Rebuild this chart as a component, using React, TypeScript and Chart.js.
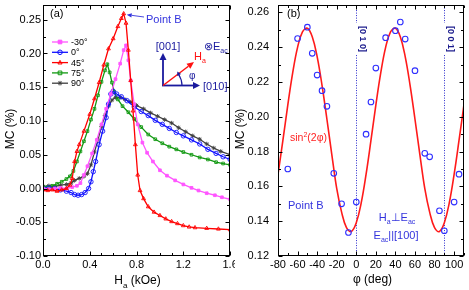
import React, { useEffect, useRef } from 'react';
import { Chart, registerables } from 'chart.js';
Chart.register(...registerables);

const FONT = '"Liberation Sans", Arial, Helvetica, sans-serif';

// ---------------- Panel (a): MC vs Ha ----------------
const legendLabels = ['-30°', '0°', '45°', '75°', '90°'];
const seriesColors = ['#ff55ff', '#1010ff', '#ff0000', '#119911', '#404040'];

const hM30 = [0.00, 0.05, 0.10, 0.15, 0.20, 0.25, 0.29, 0.32, 0.35, 0.38, 0.42, 0.46, 0.50, 0.54, 0.58, 0.62, 0.66, 0.69, 0.71, 0.73, 0.75, 0.78, 0.81, 0.85, 0.89, 0.94, 1.00, 1.06, 1.13, 1.20, 1.27, 1.33, 1.40, 1.47, 1.53, 1.60];
const mcM30 = [0.000, -0.001, 0.000, 0.001, 0.000, 0.002, 0.004, 0.008, 0.020, 0.033, 0.052, 0.072, 0.095, 0.118, 0.140, 0.162, 0.185, 0.205, 0.212, 0.190, 0.160, 0.125, 0.095, 0.068, 0.053, 0.040, 0.027, 0.019, 0.012, 0.006, 0.001, -0.003, -0.007, -0.010, -0.013, -0.016];

const h0 = [0.00, 0.05, 0.10, 0.15, 0.20, 0.24, 0.27, 0.30, 0.33, 0.36, 0.39, 0.41, 0.43, 0.45, 0.48, 0.51, 0.54, 0.56, 0.58, 0.60, 0.63, 0.67, 0.72, 0.78, 0.84, 0.90, 0.96, 1.02, 1.08, 1.14, 1.20, 1.27, 1.34, 1.41, 1.48, 1.54, 1.60];
const mc0 = [0.000, 0.001, 0.000, -0.002, -0.004, -0.006, -0.009, -0.010, -0.009, -0.006, 0.000, 0.010, 0.025, 0.040, 0.065, 0.085, 0.105, 0.125, 0.140, 0.144, 0.140, 0.136, 0.130, 0.121, 0.114, 0.108, 0.101, 0.095, 0.089, 0.083, 0.078, 0.072, 0.066, 0.058, 0.052, 0.047, 0.043];

const h45 = [0.00, 0.04, 0.08, 0.12, 0.16, 0.20, 0.23, 0.25, 0.27, 0.29, 0.31, 0.35, 0.40, 0.44, 0.48, 0.52, 0.56, 0.60, 0.64, 0.67, 0.69, 0.71, 0.73, 0.75, 0.77, 0.79, 0.81, 0.83, 0.86, 0.90, 0.95, 1.00, 1.05, 1.10, 1.15, 1.20, 1.25, 1.30, 1.40, 1.50, 1.60];
const mc45 = [-0.002, -0.003, -0.002, -0.004, -0.002, 0.000, 0.005, 0.015, 0.040, 0.055, 0.065, 0.085, 0.110, 0.133, 0.157, 0.183, 0.207, 0.222, 0.240, 0.252, 0.259, 0.245, 0.205, 0.160, 0.115, 0.065, 0.020, -0.003, -0.015, -0.027, -0.035, -0.040, -0.045, -0.049, -0.052, -0.055, -0.057, -0.058, -0.059, -0.060, -0.061];

const h75 = [0.00, 0.04, 0.08, 0.12, 0.16, 0.20, 0.23, 0.26, 0.29, 0.32, 0.35, 0.38, 0.41, 0.44, 0.47, 0.50, 0.53, 0.55, 0.57, 0.59, 0.61, 0.64, 0.68, 0.73, 0.78, 0.84, 0.90, 0.96, 1.02, 1.08, 1.14, 1.20, 1.27, 1.34, 1.41, 1.48, 1.54, 1.60];
const mc75 = [0.003, 0.002, 0.004, 0.007, 0.010, 0.014, 0.018, 0.026, 0.040, 0.055, 0.070, 0.085, 0.102, 0.118, 0.138, 0.158, 0.175, 0.184, 0.172, 0.157, 0.143, 0.132, 0.122, 0.113, 0.103, 0.091, 0.080, 0.073, 0.067, 0.062, 0.058, 0.054, 0.050, 0.046, 0.043, 0.039, 0.037, 0.035];

const h90 = [0.00, 0.05, 0.10, 0.15, 0.20, 0.24, 0.27, 0.31, 0.35, 0.38, 0.41, 0.44, 0.47, 0.50, 0.53, 0.56, 0.59, 0.62, 0.66, 0.70, 0.75, 0.80, 0.86, 0.92, 0.98, 1.04, 1.10, 1.16, 1.22, 1.28, 1.34, 1.40, 1.46, 1.52, 1.60];
const mc90 = [0.003, 0.004, 0.003, 0.005, 0.006, 0.008, 0.012, 0.015, 0.018, 0.022, 0.035, 0.054, 0.072, 0.092, 0.108, 0.122, 0.131, 0.135, 0.135, 0.132, 0.128, 0.123, 0.118, 0.112, 0.107, 0.102, 0.097, 0.090, 0.084, 0.078, 0.073, 0.066, 0.060, 0.055, 0.050];

const seriesH = [hM30, h0, h45, h75, h90];
const seriesMC = [mcM30, mc0, mc45, mc75, mc90];
const seriesStyles = ['rect', 'circle', 'triangle', 'rect', 'star'];
const seriesFilled = [true, false, false, false, false];

// ---------------- Panel (b): MC vs phi ----------------
const phiData = [-70, -60, -50, -45, -40, -35, -30, -23, -15, -8, 0, 10, 15, 20, 30, 40, 45, 50, 60, 70, 75, 85, 90, 100, 105];
const mcData = [0.170, 0.245, 0.2515, 0.2365, 0.224, 0.215, 0.206, 0.1675, 0.150, 0.1335, 0.151, 0.190, 0.2085, 0.228, 0.2455, 0.2495, 0.2545, 0.2447, 0.2265, 0.179, 0.177, 0.146, 0.1345, 0.151, 0.167];
const phiFit = [-80, -75, -70, -65, -60, -55, -50, -45, -40, -35, -30, -25, -20, -15, -10, -5, 0, 5, 10, 15, 20, 25, 30, 35, 40, 45, 50, 55, 60, 65, 70, 75, 80, 85, 90, 95, 100, 105, 110];
const mcFit = [0.1669, 0.1864, 0.2067, 0.2252, 0.2399, 0.2488, 0.2509, 0.2460, 0.2346, 0.2181, 0.1986, 0.1783, 0.1588, 0.1452, 0.1363, 0.1341, 0.1391, 0.1504, 0.1669, 0.1864, 0.2067, 0.2252, 0.2399, 0.2488, 0.2509, 0.2460, 0.2346, 0.2181, 0.1986, 0.1783, 0.1588, 0.1452, 0.1363, 0.1341, 0.1391, 0.1504, 0.1669, 0.1864, 0.2067];
const crystalLines = [0, 90];
const crystalLabels = ['[0 1 0]', '[0 0 1]'];

// ---------------- helpers ----------------
type Part = [string, number?];
function richText(ctx: CanvasRenderingContext2D, parts: Part[], x: number, y: number, size: number, color: string, align = 'left', weight = '') {
  const fontFor = (k: number) => `${weight}${k ? Math.round(size * 0.68) : size}px ${FONT}`;
  let w = 0;
  for (const [t, k] of parts) { ctx.font = fontFor(k || 0); w += ctx.measureText(t).width; }
  let cx = align === 'center' ? x - w / 2 : align === 'right' ? x - w : x;
  ctx.fillStyle = color; ctx.textAlign = 'left'; ctx.textBaseline = 'alphabetic';
  for (const [t, k] of parts) {
    ctx.font = fontFor(k || 0);
    const dy = k === 1 ? size * 0.3 : k === 2 ? -size * 0.42 : 0;
    ctx.fillText(t, cx, y + dy);
    cx += ctx.measureText(t).width;
  }
}

function rotText(ctx: CanvasRenderingContext2D, parts: Part[], x: number, y: number, size: number, color: string, angle: number, weight = '') {
  ctx.save(); ctx.translate(x, y); ctx.rotate(angle);
  richText(ctx, parts, 0, 0, size, color, 'center', weight);
  ctx.restore();
}

function arrow(ctx: CanvasRenderingContext2D, x1: number, y1: number, x2: number, y2: number, color: string, lw: number, hl: number, hw: number) {
  const a = Math.atan2(y2 - y1, x2 - x1);
  const bx = x2 - hl * Math.cos(a), by = y2 - hl * Math.sin(a);
  ctx.strokeStyle = color; ctx.fillStyle = color; ctx.lineWidth = lw;
  ctx.beginPath(); ctx.moveTo(x1, y1); ctx.lineTo(bx, by); ctx.stroke();
  ctx.beginPath(); ctx.moveTo(x2, y2);
  ctx.lineTo(bx + hw * Math.sin(a), by - hw * Math.cos(a));
  ctx.lineTo(bx - hw * Math.sin(a), by + hw * Math.cos(a));
  ctx.closePath(); ctx.fill();
}

function marker(ctx: CanvasRenderingContext2D, style: string, x: number, y: number, r: number, color: string, filled: boolean) {
  ctx.strokeStyle = color; ctx.fillStyle = color; ctx.lineWidth = 1;
  ctx.beginPath();
  if (style === 'rect') ctx.rect(x - r * 0.8, y - r * 0.8, r * 1.6, r * 1.6);
  else if (style === 'circle') ctx.arc(x, y, r, 0, Math.PI * 2);
  else if (style === 'triangle') { ctx.moveTo(x, y - r); ctx.lineTo(x + r * 0.9, y + r * 0.6); ctx.lineTo(x - r * 0.9, y + r * 0.6); ctx.closePath(); }
  else { for (let i = 0; i < 4; i++) { const a = (i * Math.PI) / 4; ctx.moveTo(x - r * Math.cos(a), y - r * Math.sin(a)); ctx.lineTo(x + r * Math.cos(a), y + r * Math.sin(a)); } ctx.stroke(); return; }
  if (filled) ctx.fill();
  ctx.stroke();
}

function drawFrame(chart: any, xMinor: number, xMajor: number, yMinor: number, yMajor: number) {
  const { ctx, chartArea: a } = chart;
  const xs = chart.scales.x, ys = chart.scales.y;
  ctx.save();
  ctx.strokeStyle = '#000'; ctx.lineWidth = 1;
  const L = Math.round(a.left) + 0.5, R = Math.round(a.right) - 0.5, T = Math.round(a.top) + 0.5, B = Math.round(a.bottom) - 0.5;
  ctx.strokeRect(L, T, R - L, B - T);
  ctx.beginPath();
  const isMaj = (v: number, mn: number, st: number) => Math.abs((v - mn) / st - Math.round((v - mn) / st)) < 1e-6;
  const nx = Math.floor((xs.max - xs.min) / xMinor + 1e-6);
  for (let i = 0; i <= nx; i++) {
    const v = xs.min + i * xMinor;
    const p = Math.round(xs.getPixelForValue(v)) + 0.5;
    const len = isMaj(v, xs.min, xMajor) ? 4 : 2.5;
    ctx.moveTo(p, B); ctx.lineTo(p, B - len);
    ctx.moveTo(p, T); ctx.lineTo(p, T + len);
  }
  const ny = Math.floor((ys.max - ys.min) / yMinor + 1e-6);
  for (let i = 0; i <= ny; i++) {
    const v = ys.min + i * yMinor;
    const p = Math.round(ys.getPixelForValue(v)) + 0.5;
    const len = isMaj(v, ys.min, yMajor) ? 4 : 2.5;
    ctx.moveTo(L, p); ctx.lineTo(L + len, p);
    ctx.moveTo(R, p); ctx.lineTo(R - len, p);
  }
  ctx.stroke();
  ctx.restore();
}

const fmt = (v: number, d: number) => (Math.abs(v) < 1e-9 ? 0 : v).toFixed(d);

function axisOpts(min: number, max: number, step: number, dec: number, pad: number, size: { w?: number; h?: number }) {
  return {
    type: 'linear', min, max,
    grid: { display: false, drawTicks: false },
    border: { display: false },
    ticks: {
      stepSize: step, includeBounds: false, autoSkip: false, maxRotation: 0,
      padding: pad, color: '#000', font: { family: FONT, size: 11 },
      callback: (v: any) => fmt(Number(v), dec),
    },
    afterFit: (s: any) => {
      if (size.w !== undefined) s.width = size.w;
      if (size.h !== undefined) s.height = size.h;
      s.paddingLeft = 0; s.paddingRight = 0; s.paddingTop = 0; s.paddingBottom = 0;
    },
  };
}

// ---------------- plugins ----------------
const panelAPlugin = {
  id: 'panelA',
  afterDraw(chart: any) {
    const ctx: CanvasRenderingContext2D = chart.ctx;
    drawFrame(chart, 0.1, 0.4, 0.025, 0.05);
    ctx.save();
    // axis titles
    richText(ctx, [['H'], ['a', 1], [' (kOe)']], 137.5, 284, 12, '#000', 'center');
    rotText(ctx, [['MC (%)']], 14, 129, 12, '#000', -Math.PI / 2);
    richText(ctx, [['(a)']], 50, 17, 11, '#000');
    // legend
    chart.data.datasets.forEach((ds: any, i: number) => {
      const y = 42 + i * 10.3;
      ctx.strokeStyle = ds.borderColor; ctx.lineWidth = 1.3;
      ctx.beginPath(); ctx.moveTo(52, y); ctx.lineTo(68, y); ctx.stroke();
      marker(ctx, seriesStyles[i], 60, y, 2.3, ds.borderColor, seriesFilled[i]);
      ctx.font = `9px ${FONT}`; ctx.fillStyle = '#000'; ctx.textBaseline = 'middle'; ctx.textAlign = 'left';
      ctx.fillText(ds.label, 71, y + 0.5);
    });
    // Point B arrow
    const xs = chart.scales.x, ys = chart.scales.y;
    const pk = mc45.indexOf(Math.max(...mc45));
    const px = xs.getPixelForValue(h45[pk]) + 2, py = ys.getPixelForValue(mc45[pk]);
    arrow(ctx, 144, 17, px + 1, py + 1, '#3333dd', 0.9, 5, 2.2);
    richText(ctx, [['Point B']], 146, 23, 11, '#3333dd');
    // crystal axes inset
    const navy = '#1a1a9e';
    arrow(ctx, 163, 86, 163, 53, navy, 1.8, 7, 3.5);
    arrow(ctx, 162, 85.5, 200, 85.5, navy, 1.8, 7, 3.5);
    arrow(ctx, 163, 85.5, 194, 62, '#ff1111', 1.5, 7, 3.2);
    richText(ctx, [['[001]']], 168, 50, 11, navy, 'center');
    richText(ctx, [['[010]']], 203, 90, 11, navy);
    richText(ctx, [['H', 0], ['a', 1]], 194, 60, 11, '#ff1111');
    richText(ctx, [['⊗E'], ['ac', 1]], 204, 50, 11, navy);
    // phi arc
    ctx.strokeStyle = navy; ctx.lineWidth = 1.2;
    ctx.beginPath(); ctx.arc(163, 85.5, 19, 0, -0.6, true); ctx.stroke();
    const ea = -0.6, ex = 163 + 19 * Math.cos(ea), ey = 85.5 + 19 * Math.sin(ea);
    arrow(ctx, ex + 2 * 0.56, ey + 2 * 0.82, ex - 0.6 * 0.56 * 4, ey - 0.82 * 4, navy, 1, 4, 2.2);
    richText(ctx, [['φ']], 189, 79, 10, navy);
    ctx.restore();
  },
};

const panelBPlugin = {
  id: 'panelB',
  beforeDatasetsDraw(chart: any) {
    const ctx: CanvasRenderingContext2D = chart.ctx;
    const { chartArea: a } = chart;
    const xs = chart.scales.x;
    ctx.save();
    ctx.strokeStyle = '#2a2acc'; ctx.lineWidth = 1; ctx.setLineDash([1, 1.5]);
    crystalLines.forEach((v) => {
      const p = Math.round(xs.getPixelForValue(v)) + 0.5;
      ctx.beginPath(); ctx.moveTo(p, a.top); ctx.lineTo(p, a.bottom); ctx.stroke();
    });
    ctx.restore();
  },
  afterDraw(chart: any) {
    const ctx: CanvasRenderingContext2D = chart.ctx;
    const xs = chart.scales.x;
    drawFrame(chart, 10, 20, 0.01, 0.02);
    ctx.save();
    // crystal labels
    crystalLines.forEach((v, i) => {
      const p = Math.round(xs.getPixelForValue(v)) + 0.5;
      ctx.fillStyle = '#fff'; ctx.fillRect(p - 5, 23, 10, 32);
      rotText(ctx, [[crystalLabels[i]]], p + 3, 39, 9, '#1a1a8c', Math.PI / 2, 'bold ');
    });
    richText(ctx, [['φ (deg)']], 137.5, 283, 12, '#000', 'center');
    rotText(ctx, [['MC (%)']], 8.5, 129, 12, '#000', -Math.PI / 2);
    richText(ctx, [['(b)']], 52, 17, 11, '#000');
    richText(ctx, [['sin'], ['2', 2], ['(2φ)']], 55, 141, 10.5, '#ff2222');
    richText(ctx, [['Point B']], 53, 209, 11, '#3333dd');
    richText(ctx, [['H'], ['a', 1], ['⊥E'], ['ac', 1]], 162, 221, 11, '#3333dd', 'center');
    richText(ctx, [['E'], ['ac', 1], ['||[100]']], 161, 239, 11, '#3333dd', 'center');
    ctx.restore();
  },
};

// ---------------- components ----------------
function PanelA() {
  const ref = useRef<HTMLCanvasElement>(null);
  useEffect(() => {
    const datasets = legendLabels.map((label, i) => ({
      label,
      data: seriesH[i].map((h, j) => ({ x: h, y: seriesMC[i][j] })),
      borderColor: seriesColors[i],
      backgroundColor: seriesFilled[i] ? seriesColors[i] : 'rgba(0,0,0,0)',
      pointBorderColor: seriesColors[i],
      borderWidth: 1.3,
      pointStyle: seriesStyles[i],
      pointRadius: seriesStyles[i] === 'rect' ? 1.9 : 2.2,
      pointBorderWidth: 0.9,
      showLine: true,
      tension: 0,
      order: i === 2 ? 0 : i + 1,
    }));
    const chart = new Chart(ref.current!, {
      type: 'scatter',
      data: { datasets },
      options: {
        responsive: false, animation: false, events: [],
        layout: { padding: { top: 2, right: 3, left: 0, bottom: 0 } },
        plugins: { legend: { display: false }, tooltip: { enabled: false } },
        scales: {
          x: axisOpts(0, 1.6, 0.4, 1, 2, { h: 34 }),
          y: axisOpts(-0.1, 0.272, 0.05, 2, 2, { w: 43 }),
        },
      } as any,
      plugins: [panelAPlugin],
    });
    return () => chart.destroy();
  }, []);
  return <canvas ref={ref} width={235} height={290} style={{ position: 'absolute', left: 0, top: 0, width: 235, height: 290 }} />;
}

function PanelB() {
  const ref = useRef<HTMLCanvasElement>(null);
  useEffect(() => {
    const chart = new Chart(ref.current!, {
      type: 'scatter',
      data: {
        datasets: [
          {
            label: 'data',
            data: phiData.map((p, i) => ({ x: p, y: mcData[i] })),
            borderColor: '#2f2fff', backgroundColor: 'rgba(0,0,0,0)',
            pointStyle: 'circle', pointRadius: 2.8, pointBorderWidth: 1.1, showLine: false,
          },
          {
            label: 'fit',
            data: phiFit.map((p, i) => ({ x: p, y: mcFit[i] })),
            borderColor: '#ff1a1a', backgroundColor: '#ff1a1a',
            pointRadius: 0, borderWidth: 1.6, showLine: true, tension: 0.4,
          },
        ],
      },
      options: {
        responsive: false, animation: false, events: [],
        layout: { padding: { top: 2, right: 2, left: 0, bottom: 0 } },
        plugins: { legend: { display: false }, tooltip: { enabled: false } },
        scales: {
          x: axisOpts(-80, 110, 20, 0, 2, { h: 34 }),
          y: axisOpts(0.12, 0.2642, 0.02, 2, 9, { w: 43 }),
        },
      } as any,
      plugins: [panelBPlugin],
    });
    return () => chart.destroy();
  }, []);
  return <canvas ref={ref} width={234} height={290} style={{ position: 'absolute', left: 235, top: 0, width: 234, height: 290, background: '#fff' }} />;
}

export default function App() {
  return (
    <div style={{ position: 'fixed', left: 0, top: 0, width: 469, height: 290, background: '#fff', overflow: 'hidden' }}>
      <PanelA />
      <PanelB />
    </div>
  );
}
